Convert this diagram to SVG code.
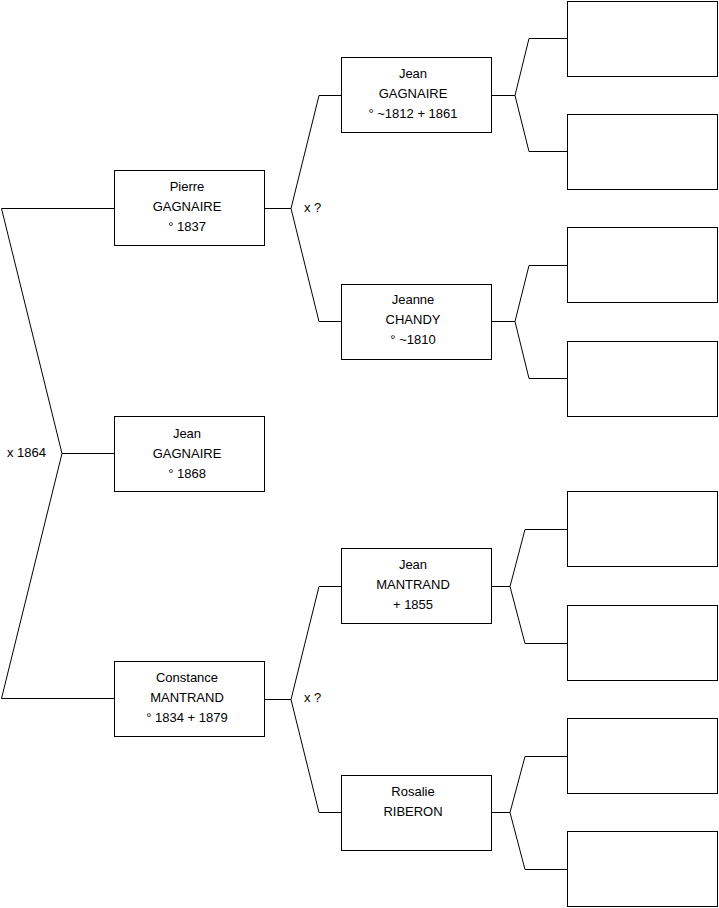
<svg xmlns="http://www.w3.org/2000/svg" width="719" height="908" viewBox="0 0 719 908">
<style>
.box{fill:#fff;stroke:#000;stroke-width:1}
.ln{fill:none;stroke:#000;stroke-width:1}
text{font-family:"Liberation Sans",Arial,sans-serif;font-size:13px;fill:#000}
.c{text-anchor:middle}
</style>
<rect width="719" height="908" fill="#fff"/>
<g id="connectors">
<polyline class="ln" points="114,208.5 1.5,208.5 62,453.5 1.5,698.5 114,698.5"/>
<line class="ln" x1="62" y1="453.5" x2="114" y2="453.5"/>
<polyline class="ln" points="341,95.5 319,95.5 291,208.5 319,321.5 341,321.5"/>
<line class="ln" x1="265" y1="208.5" x2="291" y2="208.5"/>
<polyline class="ln" points="341,586.5 319,586.5 291,699.5 319,812.5 341,812.5"/>
<line class="ln" x1="265" y1="699.5" x2="291" y2="699.5"/>
<polyline class="ln" points="567,38.5 529,38.5 515,95.5 529,151.5 567,151.5"/>
<line class="ln" x1="491" y1="95.5" x2="515" y2="95.5"/>
<polyline class="ln" points="567,265.5 529,265.5 515,321.5 529,378.5 567,378.5"/>
<line class="ln" x1="491" y1="321.5" x2="515" y2="321.5"/>
<polyline class="ln" points="567,529.5 525,529.5 510,586.5 525,643.5 567,643.5"/>
<line class="ln" x1="491" y1="586.5" x2="510" y2="586.5"/>
<polyline class="ln" points="567,756.5 525,756.5 510,812.5 525,869.5 567,869.5"/>
<line class="ln" x1="491" y1="812.5" x2="510" y2="812.5"/>
<text x="7" y="457">x 1864</text>
<text x="304" y="212">x ?</text>
<text x="304" y="702">x ?</text>
</g>
<g id="pierre"><rect class="box" x="114.5" y="170.5" width="150" height="75"/>
<text class="c" x="187" y="191">Pierre</text><text class="c" x="187" y="211">GAGNAIRE</text><text class="c" x="187" y="231">° 1837</text></g>
<g id="jean-child"><rect class="box" x="114.5" y="416.5" width="150" height="75"/>
<text class="c" x="187" y="438">Jean</text><text class="c" x="187" y="458">GAGNAIRE</text><text class="c" x="187" y="478">° 1868</text></g>
<g id="constance"><rect class="box" x="114.5" y="661.5" width="150" height="75"/>
<text class="c" x="187" y="682">Constance</text><text class="c" x="187" y="702">MANTRAND</text><text class="c" x="187" y="722">° 1834 + 1879</text></g>
<g id="jean-gagnaire"><rect class="box" x="341.5" y="57.5" width="150" height="75"/>
<text class="c" x="413" y="78">Jean</text><text class="c" x="413" y="98">GAGNAIRE</text><text class="c" x="413" y="118">° ~1812 + 1861</text></g>
<g id="jeanne"><rect class="box" x="341.5" y="284.5" width="150" height="75"/>
<text class="c" x="413" y="304">Jeanne</text><text class="c" x="413" y="324">CHANDY</text><text class="c" x="413" y="344">° ~1810</text></g>
<g id="jean-mantrand"><rect class="box" x="341.5" y="548.5" width="150" height="75"/>
<text class="c" x="413" y="569">Jean</text><text class="c" x="413" y="589">MANTRAND</text><text class="c" x="413" y="609">+ 1855</text></g>
<g id="rosalie"><rect class="box" x="341.5" y="775.5" width="150" height="75"/>
<text class="c" x="413" y="796">Rosalie</text><text class="c" x="413" y="816">RIBERON</text></g>
<g id="gg1"><rect class="box" x="567.5" y="1.5" width="150" height="75"/></g>
<g id="gg2"><rect class="box" x="567.5" y="114.5" width="150" height="75"/></g>
<g id="gg3"><rect class="box" x="567.5" y="227.5" width="150" height="75"/></g>
<g id="gg4"><rect class="box" x="567.5" y="341.5" width="150" height="75"/></g>
<g id="gg5"><rect class="box" x="567.5" y="491.5" width="150" height="75"/></g>
<g id="gg6"><rect class="box" x="567.5" y="605.5" width="150" height="75"/></g>
<g id="gg7"><rect class="box" x="567.5" y="718.5" width="150" height="75"/></g>
<g id="gg8"><rect class="box" x="567.5" y="831.5" width="150" height="75"/></g>
</svg>
